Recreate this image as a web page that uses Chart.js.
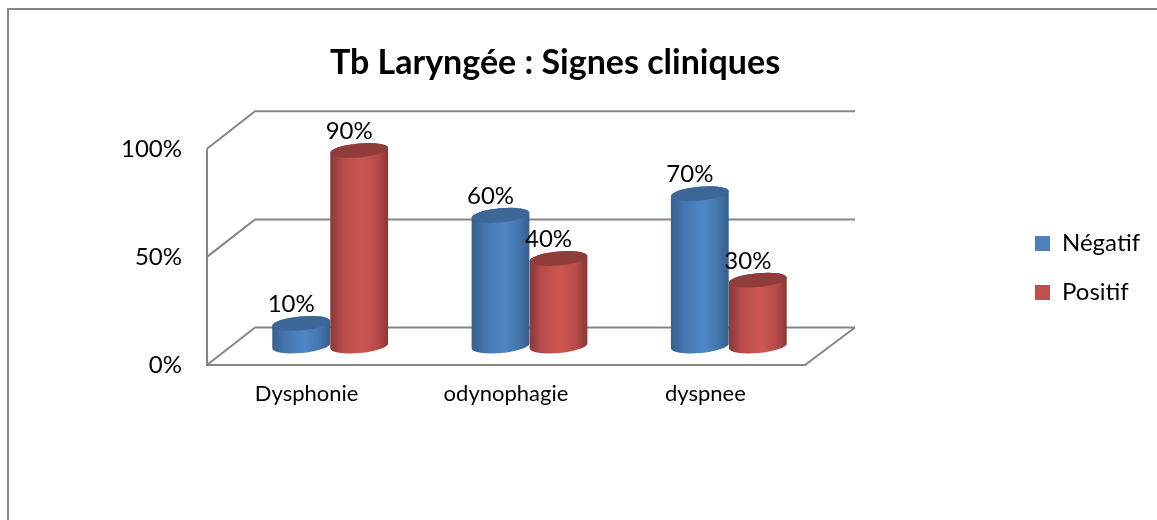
<!DOCTYPE html>
<html>
<head>
<meta charset="utf-8">
<style>
  html, body { margin: 0; padding: 0; background: #fff; }
  #wrap { position: relative; width: 1157px; height: 520px; }
</style>
<script src="https://cdn.jsdelivr.net/npm/chart.js@4/dist/chart.umd.min.js"></script>
</head>
<body>
<div id="wrap"><canvas id="chart"></canvas></div>
<script>
const categories = ["Dysphonie", "odynophagie", "dyspnee"];
const negatif = [10, 60, 70];
const positif = [90, 40, 30];
const yTicks = [0, 50, 100];

const FONT = "Lato, 'Open Sans', sans-serif";
const LINE = "#868686";
const DEPTH_X = 48;
const DEPTH_Y = 37.5;
const SHIFT_X = 23.5; // bars stand halfway into the floor
const SHIFT_Y = 20;

function cylinder(ctx, bar, base, c) {
  const rx = bar.width / 2;
  const ry = 7;
  const tilt = -0.09;
  const cx = bar.x + SHIFT_X;
  const top = bar.y - SHIFT_Y;
  const bottom = base - SHIFT_Y + 1;

  const grad = ctx.createLinearGradient(cx - rx, 0, cx + rx, 0);
  grad.addColorStop(0, c.edge);
  grad.addColorStop(0.22, c.side);
  grad.addColorStop(0.55, c.mid);
  grad.addColorStop(0.8, c.side);
  grad.addColorStop(1, c.edge);

  ctx.beginPath();
  ctx.ellipse(cx, bottom, rx, ry, tilt, Math.PI, 0, true);
  ctx.ellipse(cx, top, rx, ry, tilt, 0, Math.PI, true);
  ctx.closePath();
  ctx.fillStyle = grad;
  ctx.fill();

  ctx.beginPath();
  ctx.ellipse(cx, top, rx, ry, tilt, 0, Math.PI * 2);
  ctx.fillStyle = c.lid;
  ctx.fill();
}

const colors = [
  { edge: "#355f8e", side: "#4476ae", mid: "#5086c7", lid: "#3c6797" },
  { edge: "#8a3836", side: "#b84c49", mid: "#ce5753", lid: "#8f3c3a" },
];

const scene3d = {
  id: "scene3d",
  afterLayout(chart) {
    // legend and title sit off-centre in the original
    chart.legend.left = 1010;
    chart.legend.right = 1157;
    chart.legend.top = 168;
    chart.legend.bottom = 368;
    chart.titleBlock.right = 1110;
  },
  beforeDraw(chart) {
    const { ctx } = chart;
    ctx.save();
    ctx.strokeStyle = LINE;
    ctx.lineWidth = 2;
    ctx.beginPath();
    ctx.moveTo(8, 520);
    ctx.lineTo(8, 9);
    ctx.lineTo(1157, 9);
    ctx.stroke();
    ctx.restore();
  },
  beforeDatasetsDraw(chart) {
    const { ctx, chartArea: area, scales: { y } } = chart;
    ctx.save();
    ctx.strokeStyle = LINE;
    ctx.lineWidth = 2;
    ctx.beginPath();
    y.ticks.forEach((t) => {
      const py = y.getPixelForValue(t.value);
      ctx.moveTo(area.left, py);
      ctx.lineTo(area.left + DEPTH_X, py - DEPTH_Y);
      ctx.lineTo(area.right + DEPTH_X + 2, py - DEPTH_Y);
    });
    ctx.moveTo(area.left, area.top);
    ctx.lineTo(area.left, area.bottom);
    ctx.lineTo(area.right, area.bottom);
    ctx.lineTo(area.right + DEPTH_X + 2, area.bottom - DEPTH_Y);
    ctx.stroke();
    ctx.restore();
  },
  beforeDatasetDraw(chart, args) {
    const base = chart.scales.y.getPixelForValue(0);
    args.meta.data.forEach((bar) => {
      cylinder(chart.ctx, bar, base, colors[args.index]);
    });
    return false; // the cylinder replaces the flat bar
  },
  afterDatasetsDraw(chart) {
    const { ctx } = chart;
    ctx.save();
    ctx.font = "24px " + FONT;
    ctx.fillStyle = "#000";
    ctx.textAlign = "center";
    ctx.textBaseline = "middle";
    chart.data.datasets.forEach((ds, i) => {
      chart.getDatasetMeta(i).data.forEach((bar, j) => {
        ctx.fillText(ds.data[j] + "%", bar.x + SHIFT_X - 10, bar.y - SHIFT_Y - 19);
      });
    });
    ctx.restore();
  },
};

new Chart(document.getElementById("chart"), {
  type: "bar",
  data: {
    labels: categories,
    datasets: [
      { label: "Négatif", data: negatif, backgroundColor: "#4f81bd" },
      { label: "Positif", data: positif, backgroundColor: "#c0504d" },
    ],
  },
  options: {
    responsive: true,
    maintainAspectRatio: false,
    animation: false,
    layout: { padding: { left: 0, right: 252, top: 0, bottom: 0 } },
    datasets: { bar: { categoryPercentage: 0.582, barPercentage: 1 } },
    scales: {
      x: {
        grid: { display: false, drawTicks: false },
        border: { display: false },
        ticks: { color: "#000", font: { family: FONT, size: 22 }, padding: 16, maxRotation: 0 },
        afterFit: (s) => { s.height = 155; },
      },
      y: {
        min: 0,
        max: 100,
        afterBuildTicks: (s) => { s.ticks = yTicks.map((value) => ({ value })); },
        grid: { display: false, drawTicks: false },
        border: { display: false },
        ticks: { color: "#000", font: { family: FONT, size: 24 }, padding: 25, callback: (v) => v + "%" },
        afterFit: (s) => { s.width = 207; },
      },
    },
    plugins: {
      title: {
        display: true,
        text: "Tb Laryngée : Signes cliniques",
        color: "#000",
        font: { family: FONT, size: 34, weight: "bold" },
        padding: { top: 43, bottom: 65 },
      },
      legend: {
        position: "right",
        maxWidth: 100,
        labels: {
          color: "#000",
          font: { family: FONT, size: 24 },
          boxWidth: 15,
          boxHeight: 15,
          padding: 25,
        },
      },
      tooltip: { enabled: false },
    },
  },
  plugins: [scene3d],
});
</script>
</body>
</html>
